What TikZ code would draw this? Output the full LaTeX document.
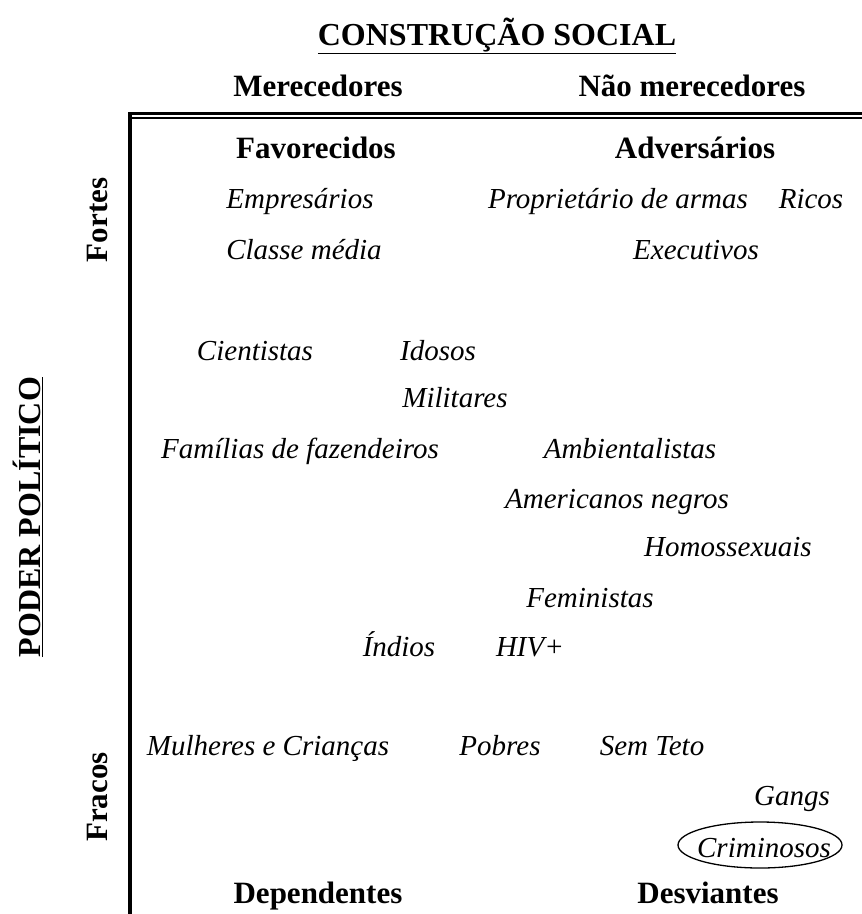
\documentclass[tikz,border=0pt]{standalone}
\usepackage{fontspec}
\newfontfamily\fa{Liberation Serif}
\newfontfamily\frot{Liberation Serif}[Scale=0.9999]
\begin{document}
\begin{tikzpicture}[x=1pt,y=-1pt,
  hd/.style={anchor=base,inner sep=0pt,font=\fa\bfseries\fontsize{31}{36}\selectfont},
  it/.style={anchor=base,inner sep=0pt,font=\fa\itshape\fontsize{29}{34}\selectfont},
  vt/.style={anchor=base,inner sep=0pt,rotate=90,font=\frot\bfseries\fontsize{31}{36}\selectfont}]
\useasboundingbox (0,0) rectangle (862,914);
% frame lines
\coordinate (ctop) at (128,113.5);
\coordinate (rtop) at (862,113.5);
\coordinate (cin) at (132,118);
\coordinate (rin) at (862,118);
\coordinate (vtop) at (130.2,113);
\coordinate (vbot) at (130.2,914);
\draw[line width=3pt] (ctop) -- (rtop);
\draw[line width=1.3pt] (cin) -- (rin);
\draw[line width=3.6pt] (vtop) -- (vbot);
% headings
\node[hd,font=\fa\bfseries\fontsize{32}{36}\selectfont] (title) at (497,45) {\underline{CONSTRUÇÃO SOCIAL}};
\node[hd] (mer) at (318,96) {Merecedores};
\node[hd] (nmer) at (692,96) {Não merecedores};
\node[hd] (fav) at (316,158) {Favorecidos};
\node[hd] (adv) at (695,158) {Adversários};
\node[hd] (dep) at (318,903) {Dependentes};
\node[hd] (des) at (708,903) {Desviantes};
% vertical labels
\node[vt] (fortes) at (107,220) {Fortes};
\node[vt] (fracos) at (107,797) {Fracos};
\node[vt,font=\frot\bfseries\fontsize{32}{36}\selectfont] (poder) at (40,517) {\underline{PODER POLÍTICO}};
% groups
\node[it] (emp) at (300,208) {Empresários};
\node[it] (prop) at (618,208) {Proprietário de armas};
\node[it] (ricos) at (811,208) {Ricos};
\node[it] (classe) at (304,259) {Classe média};
\node[it] (exec) at (696,259) {Executivos};
\node[it] (cient) at (255,360) {Cientistas};
\node[it] (idosos) at (438,360) {Idosos};
\node[it] (milit) at (455,407) {Militares};
\node[it] (famil) at (300,458) {Famílias de fazendeiros};
\node[it] (ambi) at (630,458) {Ambientalistas};
\node[it] (amer) at (617,508) {Americanos negros};
\node[it] (homo) at (728,556) {Homossexuais};
\node[it] (femi) at (590,607) {Feministas};
\node[it] (indios) at (399,656) {Índios};
\node[it] (hiv) at (530,656) {HIV+};
\node[it] (mulh) at (268,755) {Mulheres e Crianças};
\node[it] (pobres) at (500,755) {Pobres};
\node[it] (semteto) at (652,755) {Sem Teto};
\node[it] (gangs) at (792,805) {Gangs};
\node[it] (crim) at (764,857) {Criminosos};
\draw[line width=1.3pt] (760,845) ellipse [x radius=82, y radius=23];
\end{tikzpicture}
\end{document}
